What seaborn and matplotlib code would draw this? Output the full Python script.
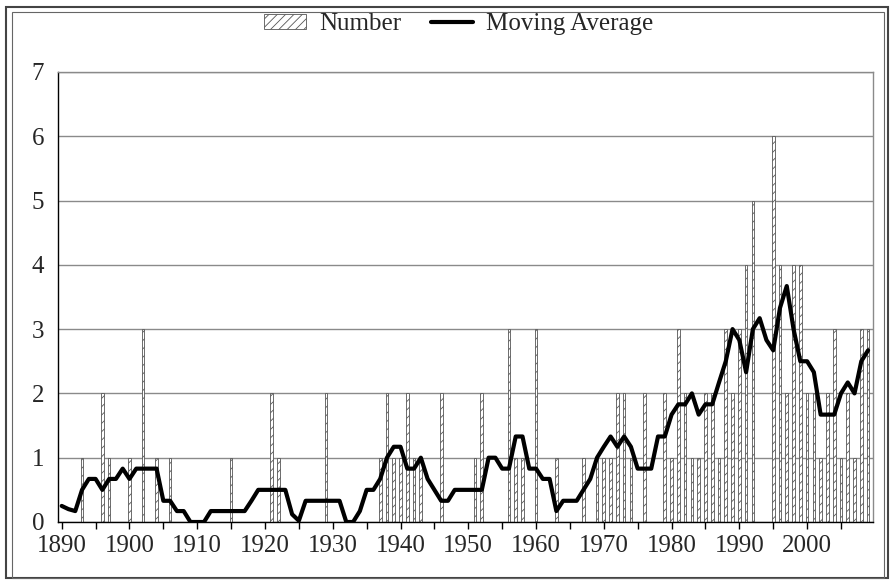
import matplotlib
matplotlib.use("Agg")
import matplotlib.pyplot as plt
import seaborn as sns
from matplotlib.patches import Patch, Rectangle
from matplotlib.lines import Line2D

# years with at least one case, and the number of cases
years = [1893, 1896, 1897, 1900, 1902, 1904, 1906, 1915, 1921, 1922,
         1929, 1937, 1938, 1939, 1940, 1941, 1942, 1943, 1946, 1951,
         1952, 1956, 1957, 1958, 1960, 1963, 1967, 1969, 1970, 1971,
         1972, 1973, 1974, 1976, 1979, 1980, 1981, 1982, 1983, 1984,
         1985, 1986, 1987, 1988, 1989, 1990, 1991, 1992, 1995, 1996,
         1997, 1998, 1999, 2000, 2001, 2002, 2003, 2004, 2005, 2006,
         2007, 2008, 2009]
counts = [1, 2, 1, 1, 3, 1, 1, 1, 2, 1,
          2, 1, 2, 1, 1, 2, 1, 1, 2, 1,
          2, 3, 1, 1, 3, 1, 1, 1, 1, 1,
          2, 2, 1, 2, 2, 1, 3, 2, 1, 1,
          2, 2, 1, 3, 2, 3, 4, 5, 6, 4,
          2, 4, 4, 2, 2, 1, 2, 3, 1, 2,
          1, 3, 3]

# moving average, one value per year 1890-2009
ma_years = list(range(1890, 2010))
ma_values = [0.25, 0.2, 0.17, 0.5, 0.67, 0.67, 0.5, 0.67, 0.67, 0.83,
             0.67, 0.83, 0.83, 0.83, 0.83, 0.33, 0.33, 0.17, 0.17, 0.0,
             0.0, 0.0, 0.17, 0.17, 0.17, 0.17, 0.17, 0.17, 0.33, 0.5,
             0.5, 0.5, 0.5, 0.5, 0.12, 0.02, 0.33, 0.33, 0.33, 0.33,
             0.33, 0.33, 0.0, 0.0, 0.17, 0.5, 0.5, 0.67, 1.0, 1.17,
             1.17, 0.83, 0.83, 1.0, 0.67, 0.5, 0.33, 0.33, 0.5, 0.5,
             0.5, 0.5, 0.5, 1.0, 1.0, 0.83, 0.83, 1.33, 1.33, 0.83,
             0.83, 0.67, 0.67, 0.17, 0.33, 0.33, 0.33, 0.5, 0.67, 1.0,
             1.17, 1.33, 1.17, 1.33, 1.17, 0.83, 0.83, 0.83, 1.33, 1.33,
             1.67, 1.83, 1.83, 2.0, 1.67, 1.83, 1.83, 2.17, 2.5, 3.0,
             2.83, 2.33, 3.0, 3.17, 2.83, 2.67, 3.33, 3.67, 3.0, 2.5,
             2.5, 2.33, 1.67, 1.67, 1.67, 2.0, 2.17, 2.0, 2.5, 2.67]

sns.set_theme(style="white")
plt.rcParams['font.family'] = ['Liberation Serif', 'DejaVu Serif']
plt.rcParams['hatch.linewidth'] = 0.6
plt.rcParams['hatch.color'] = '#666666'

fig = plt.figure(figsize=(8.92, 5.8), dpi=100)
ax = fig.add_axes([0.065, 0.1, 0.9135, 0.776])

sns.barplot(x=years, y=counts, native_scale=True, width=0.4, errorbar=None,
            color='white', edgecolor='#555555', linewidth=0.6, hatch='////',
            ax=ax, zorder=2)
sns.lineplot(x=ma_years, y=ma_values, color='black', linewidth=3, ax=ax, zorder=3)

ax.set_xlim(1889.45, 2009.7)
ax.set_ylim(0, 7)
ax.set_yticks(range(0, 8))
ax.set_xticks(range(1890, 2010, 5))
ax.set_xticklabels([str(y) if y % 10 == 0 else '' for y in range(1890, 2010, 5)])
ax.yaxis.grid(True, color='#8a8a8a', linewidth=1)
ax.set_axisbelow(True)
ax.tick_params(axis='x', length=5, width=1, color='black', direction='out',
               labelsize=18, pad=4, bottom=True)
ax.tick_params(axis='y', length=0, labelsize=18, pad=10)
ax.set_xlabel('')
ax.set_ylabel('')
for s in ['left', 'bottom']:
    ax.spines[s].set_color('black')
    ax.spines[s].set_linewidth(1)
for s in ['top', 'right']:
    ax.spines[s].set_color('#8a8a8a')
    ax.spines[s].set_linewidth(1)

handles = [Patch(facecolor='white', edgecolor='#555555', hatch='////', linewidth=0.6),
           Line2D([], [], color='black', linewidth=3)]
fig.legend(handles, ['Number', 'Moving Average'], loc='center',
           bbox_to_anchor=(0.514, 0.958), ncol=2, frameon=False,
           fontsize=18, handlelength=1.7, handleheight=0.5,
           columnspacing=1.2, handletextpad=0.5)

# double frame around the chart
fig.patches.append(Rectangle((6 / 892, 2 / 580), 882 / 892, 571 / 580, transform=fig.transFigure,
                             fill=False, edgecolor='#444444', linewidth=1.5))
fig.patches.append(Rectangle((12 / 892, 2 / 580), 872 / 892, 566 / 580, transform=fig.transFigure,
                             fill=False, edgecolor='#666666', linewidth=0.8))

fig.savefig('out.png', dpi=100)
